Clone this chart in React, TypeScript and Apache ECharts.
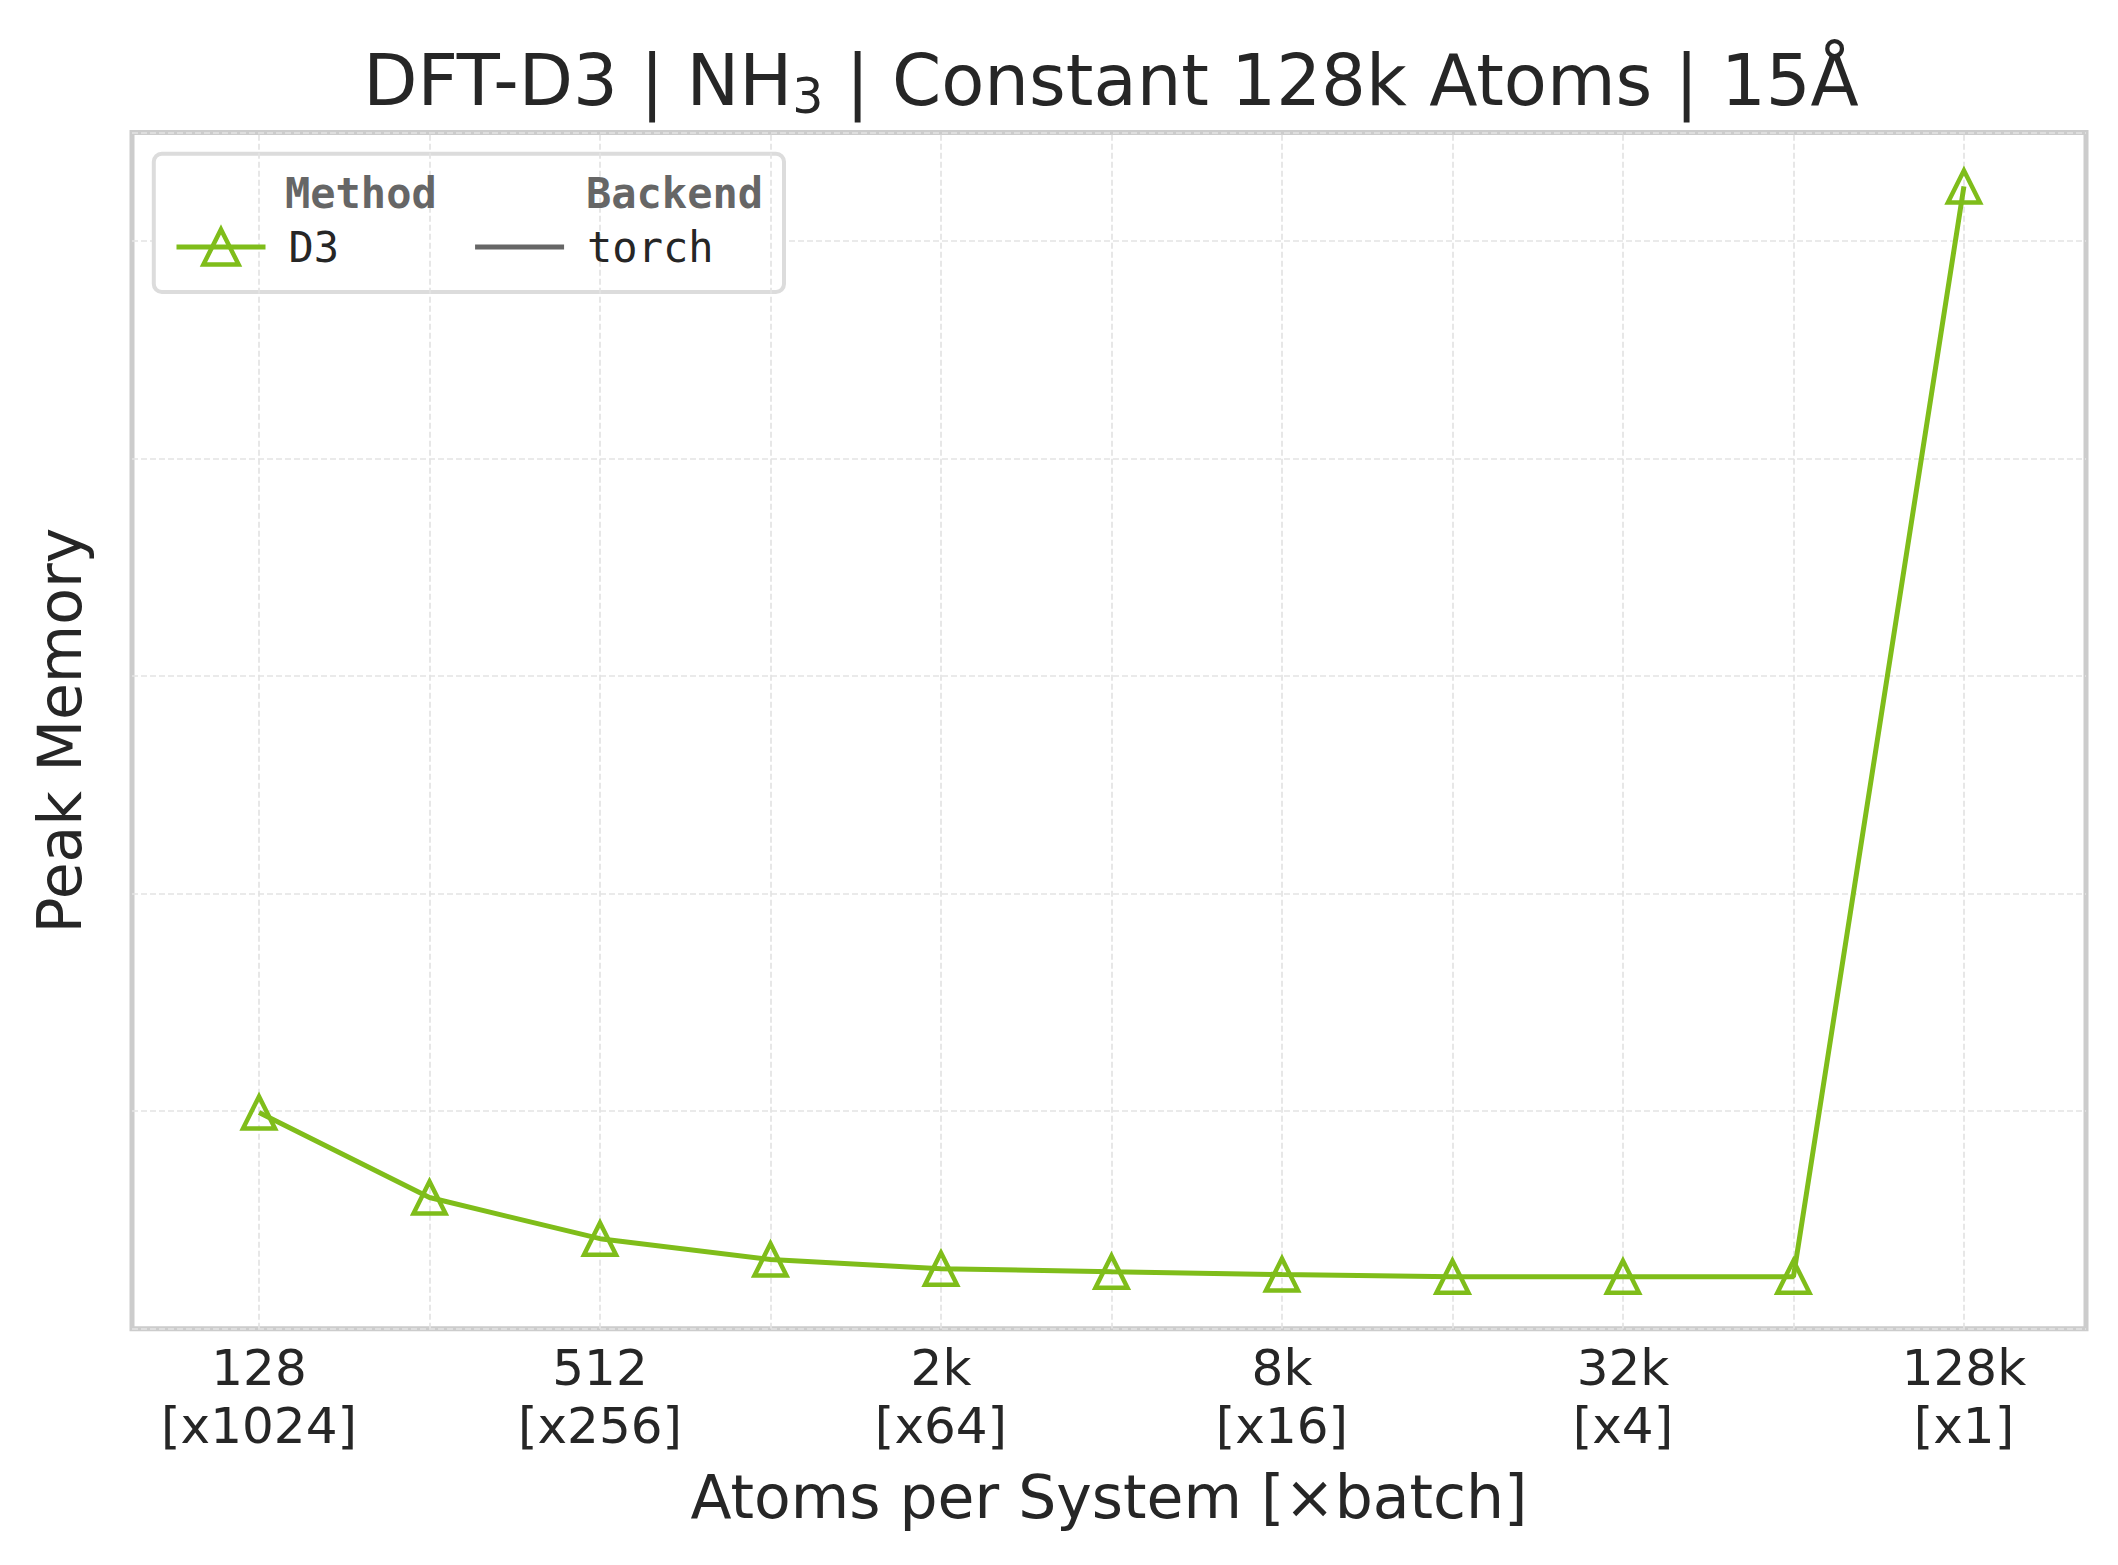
import React, { useEffect, useRef } from "react";
import * as echarts from "echarts";

// ---- data ----
const atoms = [128, 256, 512, 1024, 2048, 4096, 8192, 16384, 32768, 65536, 131072];
const peakMemory = [0.994, 0.603, 0.414, 0.318, 0.276, 0.262, 0.249, 0.239, 0.239, 0.239, 5.252];
const labeledAtoms = [128, 512, 2048, 8192, 32768, 131072];
const atomLabels = ["128", "512", "2k", "8k", "32k", "128k"];
const batchLabels = ["[x1024]", "[x256]", "[x64]", "[x16]", "[x4]", "[x1]"];
const methodNames = ["D3"];
const backendNames = ["torch"];
const yTicks = [0, 1, 2, 3, 4, 5];

const GREEN = "#7fbd1a";
const TEXT = "#262626";
const GRIDLINE = "#e3e3e3";

export default function App() {
  const ref = useRef<HTMLDivElement>(null);

  useEffect(() => {
    if (!ref.current) return;
    const chart = echarts.init(ref.current, undefined, { renderer: "svg" });

    const lx = atoms.map((a) => Math.log2(a));
    const labeledLog = labeledAtoms.map((a) => Math.log2(a));

    const option: any = {
      animation: false,
      backgroundColor: "#ffffff",
      title: {
        text: "DFT-D3 | NH{s|3} | Constant 128k Atoms | 15Å",
        left: 1106,
        top: 36,
        textAlign: "center",
        textStyle: {
          fontFamily: "DejaVu Sans",
          fontSize: 70.5,
          fontWeight: "normal",
          color: TEXT,
          lineHeight: 80,
          rich: {
            s: {
              fontFamily: "DejaVu Sans",
              fontSize: 49,
              color: TEXT,
              lineHeight: 40,
              verticalAlign: "bottom",
            },
          },
        },
      },
      grid: {
        left: 132,
        top: 132.5,
        right: 32,
        bottom: 236.3,
        show: true,
        borderColor: "#cccccc",
        borderWidth: 5,
        backgroundColor: "#ffffff",
        containLabel: false,
      },
      xAxis: {
        type: "value",
        min: 6.255,
        max: 17.716,
        axisLine: { show: false },
        axisTick: { show: false },
        splitLine: { show: false },
        axisLabel: {
          customValues: labeledLog,
          formatter: (v: number) => {
            const i = labeledLog.findIndex((x) => Math.abs(x - v) < 1e-6);
            return i >= 0 ? `${atomLabels[i]}\n${batchLabels[i]}` : "";
          },
          fontFamily: "DejaVu Sans",
          fontSize: 50,
          lineHeight: 58,
          color: TEXT,
          margin: 10,
        },
        name: "Atoms per System [×batch]",
        nameLocation: "middle",
        nameGap: 168,
        nameTextStyle: {
          fontFamily: "DejaVu Sans",
          fontSize: 60,
          color: TEXT,
          verticalAlign: "middle",
        },
      },
      yAxis: {
        type: "value",
        min: yTicks[0],
        max: 5.5,
        interval: 1,
        axisLine: { show: false },
        axisTick: { show: false },
        axisLabel: { show: false },
        splitLine: {
          show: true,
          lineStyle: { color: GRIDLINE, type: [6, 3], width: 1.7 },
        },
        name: "Peak Memory",
        nameLocation: "middle",
        nameGap: 72,
        nameRotate: 90,
        nameTextStyle: {
          fontFamily: "DejaVu Sans",
          fontSize: 60,
          color: TEXT,
          verticalAlign: "middle",
        },
      },
      legend: {
        left: 174,
        top: 226,
        orient: "horizontal",
        itemWidth: 89,
        itemHeight: 44,
        itemGap: 136,
        padding: 0,
        selectedMode: false,
        lineStyle: { width: 5 },
        itemStyle: { borderWidth: 4.5 },
        textStyle: {
          fontFamily: "DejaVu Sans Mono",
          fontSize: 42,
          color: TEXT,
          padding: [0, 0, 0, 18],
        },
        data: [
          { name: methodNames[0] },
          { name: backendNames[0], icon: "path://M0 0H89V5H0Z" },
        ],
      },
      graphic: [
        {
          type: "rect",
          z: 1,
          shape: { x: 153.8, y: 153.7, width: 630.2, height: 138.3, r: 8 },
          style: { fill: "#ffffff", stroke: "#dcdcdc", lineWidth: 4 },
        },
        {
          type: "text",
          z: 5,
          x: 285,
          y: 193,
          style: {
            text: "Method",
            fontFamily: "DejaVu Sans Mono",
            fontSize: 42,
            fontWeight: "bold",
            fill: "#666666",
            verticalAlign: "middle",
          },
        },
        {
          type: "text",
          z: 5,
          x: 586,
          y: 193,
          style: {
            text: "Backend",
            fontFamily: "DejaVu Sans Mono",
            fontSize: 42,
            fontWeight: "bold",
            fill: "#666666",
            verticalAlign: "middle",
          },
        },
      ],
      series: [
        {
          name: "_grid",
          type: "line",
          data: [],
          silent: true,
          markLine: {
            silent: true,
            z: 1,
            symbol: ["none", "none"],
            label: { show: false },
            emphasis: { disabled: true },
            lineStyle: { color: GRIDLINE, type: [6, 3], width: 1.7 },
            data: lx.map((x) => ({ xAxis: x })),
          },
        },
        {
          name: methodNames[0],
          type: "line",
          z: 3,
          color: GREEN,
          data: lx.map((x, i) => [x, peakMemory[i]]),
          symbol: "triangle",
          symbolSize: 32,
          showAllSymbol: true,
          itemStyle: { color: "rgba(255,255,255,0)", borderColor: GREEN, borderWidth: 4.5 },
          lineStyle: { color: GREEN, width: 5 },
        },
        {
          name: backendNames[0],
          type: "line",
          color: "#666666",
          data: [],
          symbol: "none",
          lineStyle: { color: "#666666", width: 5 },
        },
      ],
    };

    chart.setOption(option);
    return () => chart.dispose();
  }, []);

  return (
    <div
      ref={ref}
      style={{
        position: "absolute",
        left: 0,
        top: 0,
        width: 2118,
        height: 1565,
        background: "#ffffff",
      }}
    />
  );
}
